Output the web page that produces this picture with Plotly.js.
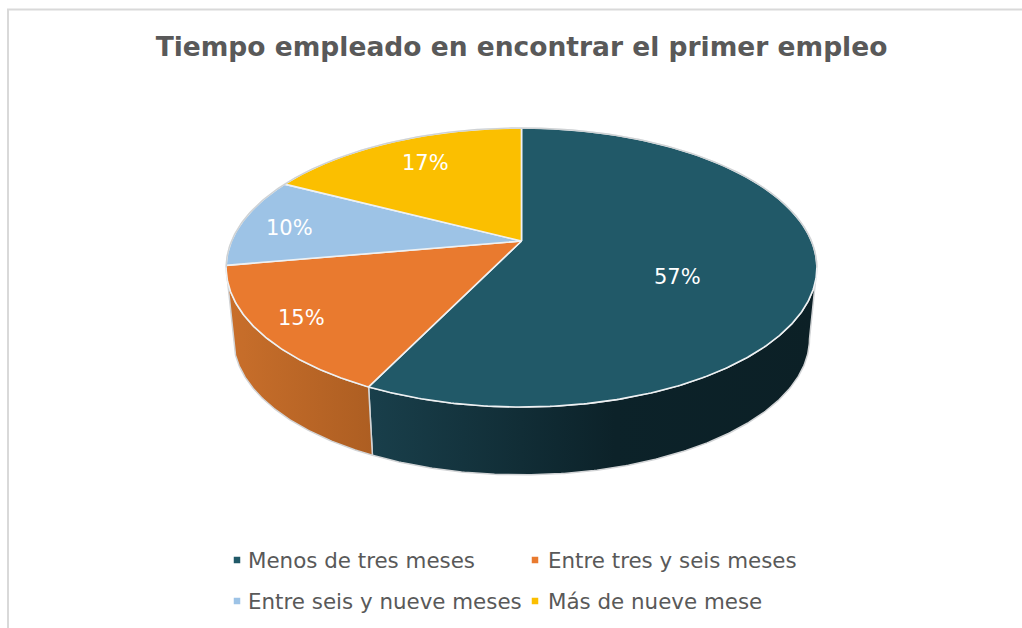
<!DOCTYPE html>
<html>
<head>
<meta charset="utf-8">
<script src="https://cdn.plot.ly/plotly-3.0.1.min.js"></script>
<style>html,body{margin:0;padding:0;background:#fff;overflow:hidden}</style>
</head>
<body>
<div id="chart" style="width:1022px;height:628px"></div>
<script>
// Data
const categories = ['Menos de tres meses', 'Entre tres y seis meses', 'Entre seis y nueve meses', 'Más de nueve mese'];
const values = [57.2, 15.0, 10.4, 17.4];
const percentLabels = ['57%', '15%', '10%', '17%'];
const chartTitle = 'Tiempo empleado en encontrar el primer empleo';

// Styles
const topColors = ['#215968', '#E97A2F', '#9DC3E6', '#FBBF00'];
const wallScales = [
  [[0, '#193F4B'], [0.55, '#0C2229'], [1, '#0C2026']],
  [[0, '#C96F2B'], [1, '#AD5E22']],
  [[0, '#7E9CB8'], [1, '#7E9CB8']],
  [[0, '#C99700'], [1, '#C99700']]
];

// Layout positions (pixels)
const labelX = [677, 301, 289, 425];
const labelY = [277, 318, 228, 163];
const legendMarkerX = [237, 535, 237, 535];
const legendTextX = [247, 547, 247, 547];
const legendY = [560, 560, 601, 601];

// Perspective disc geometry
const cx = 521.5, apexTop = 241, apexBottom = 313;
const a = 290, b = 134.5, k = 0.19, bottomScale = 0.975;
const wallStart = 101, wallEnd = 259;

function project(deg, apexY, s) {
  const t = deg * Math.PI / 180, u = Math.sin(t), v = Math.cos(t), d = 1 + k * v;
  return [cx + s * a * u / d, apexY - s * b * v / d];
}
function arc(d0, d1, apexY, s) {
  const n = Math.max(2, Math.ceil(Math.abs(d1 - d0) * 2)), pts = [];
  for (let i = 0; i <= n; i++) pts.push(project(d0 + (d1 - d0) * i / n, apexY, s));
  return pts;
}
const total = values.reduce((p, c) => p + c, 0);
let acc = 0;
const spans = values.map(v => { const s = [acc, acc + v * 360 / total]; acc = s[1]; return s; });

const base = {type: 'scatter', mode: 'lines', fill: 'toself', hoverinfo: 'skip', showlegend: false};
const traces = [];

// Side walls
spans.forEach((sp, i) => {
  const d0 = Math.max(sp[0], wallStart), d1 = Math.min(sp[1], wallEnd);
  if (d1 <= d0) return;
  const top = arc(d0, d1, apexTop, 1), bot = arc(d1, d0, apexBottom, bottomScale);
  const pts = top.concat(bot); pts.push(top[0]);
  const xs = pts.map(p => p[0]);
  traces.push(Object.assign({}, base, {
    x: xs, y: pts.map(p => p[1]),
    line: {color: '#D2D4D6', width: 1.5},
    fillgradient: {type: 'horizontal', colorscale: wallScales[i],
      start: Math.min.apply(null, xs), stop: Math.max.apply(null, xs)}
  }));
});

// Top faces
spans.forEach((sp, i) => {
  const pts = [[cx, apexTop]].concat(arc(sp[0], sp[1], apexTop, 1));
  pts.push([cx, apexTop]);
  traces.push(Object.assign({}, base, {
    x: pts.map(p => p[0]), y: pts.map(p => p[1]),
    fillcolor: topColors[i],
    line: {color: '#EEF1F3', width: 1.6}
  }));
});

// Grey back rim
const rim = arc(wallEnd, 360 + wallStart, apexTop, 1);
traces.push({type: 'scatter', mode: 'lines', hoverinfo: 'skip', showlegend: false,
  x: rim.map(p => p[0]), y: rim.map(p => p[1]), line: {color: '#CFD2D4', width: 1.4}});

// Legend markers
categories.forEach((c, i) => {
  traces.push({type: 'scatter', mode: 'markers', hoverinfo: 'skip', showlegend: false,
    x: [legendMarkerX[i]], y: [legendY[i]],
    marker: {symbol: 'square', size: 6.5, color: topColors[i]}, cliponaxis: false});
});

const pctAnn = percentLabels.map((t, i) => ({
  text: t, x: labelX[i], y: labelY[i], xref: 'x', yref: 'y', showarrow: false,
  xanchor: 'center', yanchor: 'middle',
  font: {family: '"DejaVu Sans", sans-serif', size: 21, color: '#FFFFFF'}
}));
const legendAnn = categories.map((t, i) => ({
  text: t, x: legendTextX[i], y: legendY[i], xref: 'x', yref: 'y', showarrow: false,
  xanchor: 'left', yanchor: 'middle', xshift: -1,
  font: {family: '"DejaVu Sans", sans-serif', size: 21.4, color: '#595959'}
}));

const layout = {
  width: 1022, height: 628,
  margin: {l: 0, r: 0, t: 0, b: 0},
  paper_bgcolor: '#fff', plot_bgcolor: '#fff',
  showlegend: false,
  title: {text: '<b>' + chartTitle + '</b>', x: 521.5 / 1022, xanchor: 'center', y: 1 - 47 / 628, yanchor: 'middle',
    font: {family: '"DejaVu Sans", sans-serif', size: 26.5, color: '#595959'}},
  xaxis: {range: [0, 1022], visible: false, fixedrange: true},
  yaxis: {range: [628, 0], visible: false, fixedrange: true},
  shapes: [
    {type: 'line', xref: 'x', yref: 'y', x0: 8, x1: 8, y0: 9, y1: 628, line: {color: '#D9D9D9', width: 2}},
    {type: 'line', xref: 'x', yref: 'y', x0: 7, x1: 1022, y0: 9.5, y1: 9.5, line: {color: '#D9D9D9', width: 2}}
  ],
  annotations: pctAnn.concat(legendAnn)
};
Plotly.newPlot('chart', traces, layout, {staticPlot: true, displayModeBar: false});
</script>
</body>
</html>
